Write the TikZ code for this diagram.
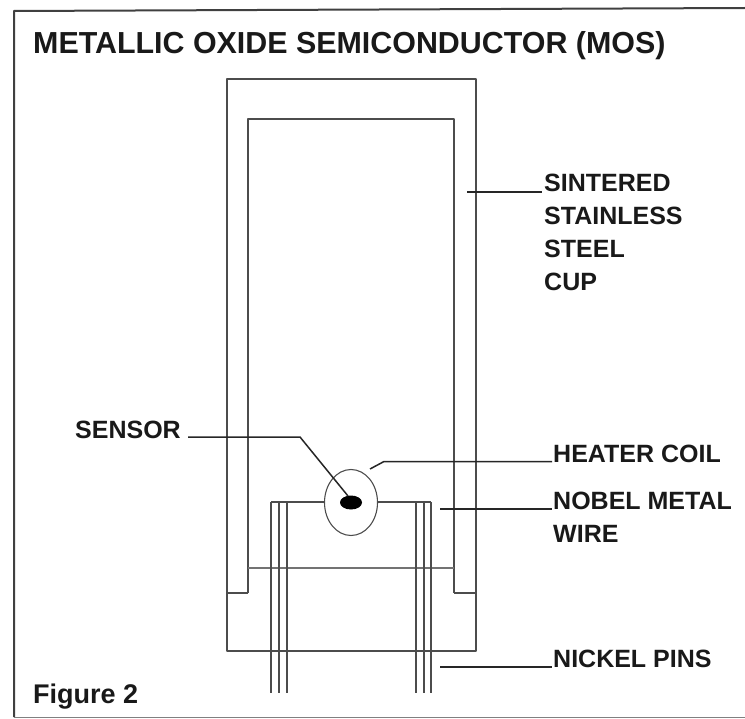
\documentclass[tikz,border=0pt]{standalone}
\usepackage{fontspec}
\usetikzlibrary{shapes.geometric}
\setmainfont{Liberation Sans}
\tikzset{
  wall/.style={draw=black!70,line width=1.1bp},
  leader/.style={draw=black!85,line width=1.5bp},
  caption/.style={font=\fontsize{25bp}{33bp}\selectfont\bfseries,inner sep=0pt,align=left,text=black!90},
}
\begin{document}
\begin{tikzpicture}[x=1bp,y=-1bp,line join=bevel]
  \useasboundingbox (0,0) rectangle (745,719);
  % Frame
  \draw [line width=2bp,black!75] (745,8) -- (14,11) -- (14,717);
  \draw [line width=0.8bp,black!50] (14,717) -- (745,717);
  % Cup
  \draw [wall] (248,593) -- (227,593) -- (227,79) -- (476,79) -- (476,593) -- (454,593);
  \draw [wall] (248,593) -- (248,119) -- (454,119) -- (454,593);
  \draw [wall,black!55] (248,568) -- (454,568);
  \draw [wall] (227,593) -- (227,651) -- (476,651) -- (476,593);
  % Pins
  \foreach \pinx in {271,279,287,416,424,431}
    \draw [wall] (\pinx,502) -- (\pinx,693);
  \draw [wall] (271,502) -- (325,502);
  \draw [wall] (378,502) -- (431,502);
  % Node: coil
  \node (coil) [wall,ellipse,minimum width=53bp,minimum height=66bp,inner sep=0pt] at (351,502.5) {};
  \node (sensorblob) [ellipse,fill=black,minimum width=22bp,minimum height=14bp,inner sep=0pt] at (351,502.5) {};
  % Node: captions
  \node (title) [anchor=base west,inner sep=0pt,font=\fontsize{30.4bp}{33bp}\selectfont\bfseries,text=black!90] at (33,54) {METALLIC OXIDE SEMICONDUCTOR (MOS)};
  \node (figure) [caption,anchor=base west,font=\fontsize{27bp}{33bp}\selectfont\bfseries] at (33,703) {Figure 2};
  \node (sintered) [caption,anchor=north west] at (544,174) {SINTERED\\STAINLESS\\STEEL\\CUP};
  \node (sensor) [caption,anchor=base west] at (75,438) {SENSOR};
  \node (heater) [caption,anchor=base west] at (553,462) {HEATER COIL};
  \node (nobel) [caption,anchor=north west] at (553,492) {NOBEL METAL\\WIRE};
  \node (nickel) [caption,anchor=base west] at (553,667) {NICKEL PINS};
  % Edge: leaders
  \coordinate (sinteredend) at (467,192);
  \coordinate (sensorend) at (348,496);
  \coordinate (heaterend) at (370,469);
  \coordinate (nobelend) at (440,509);
  \coordinate (nickelend) at (440,667);
  \draw [leader] (sinteredend) -- (542,192);
  \draw [leader] (188,437) -- (300,437) -- (sensorend);
  \draw [leader] (heaterend) -- (384,461.5) -- (552,461.5);
  \draw [leader] (nobelend) -- (552,509);
  \draw [leader,line width=2.4bp] (nickelend) -- (552,667);
\end{tikzpicture}
\end{document}
